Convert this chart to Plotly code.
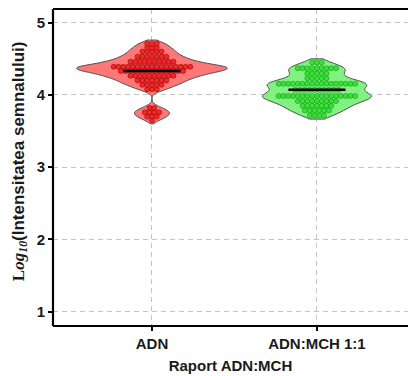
import numpy as np
import plotly.graph_objects as go

# ---- data ----
categories = ["ADN", "ADN:MCH 1:1"]
adn_levels = [4.71, 4.655, 4.60, 4.53, 4.46, 4.39, 4.33, 4.265, 4.20, 4.14, 4.08, 3.82, 3.76, 3.70, 3.65]
adn_counts = [3, 3, 5, 7, 10, 17, 14, 10, 7, 5, 3, 2, 4, 3, 1]
mch_levels = [4.45, 4.37, 4.30, 4.23, 4.155, 4.07, 3.985, 3.915, 3.85, 3.785, 3.715]
mch_counts = [3, 9, 5, 5, 17, 10, 17, 9, 7, 6, 4]
y_ticks = [1, 2, 3, 4, 5]

adn_vals = np.repeat(adn_levels, adn_counts)
mch_vals = np.repeat(mch_levels, mch_counts)

series = [
    dict(vals=adn_vals, pos=0, width=0.915, bw=0.042,
         fill="rgba(255,112,112,0.95)", dot="#ee2a2a", dotline="#a00000"),
    dict(vals=mch_vals, pos=1, width=0.66, bw=0.06,
         fill="rgba(122,240,122,0.95)", dot="#3ce03c", dotline="#129a12"),
]

fig = go.Figure()
dot_step = 0.029
for s in series:
    v = s["vals"]
    fig.add_trace(go.Violin(
        y=v, x0=s["pos"], width=s["width"], bandwidth=s["bw"],
        scalemode="width", points=False, spanmode="manual",
        span=[float(v.min()) - 0.05, float(v.max()) + 0.05],
        fillcolor=s["fill"], line=dict(color="#505050", width=1),
        box=dict(visible=False), meanline=dict(visible=False),
        showlegend=False, hoverinfo="skip"))
    xs, ys = [], []
    for lvl in np.unique(v):
        n = int((v == lvl).sum())
        offs = (np.arange(n) - (n - 1) / 2) * dot_step
        xs.extend(s["pos"] + offs)
        ys.extend([lvl] * n)
    fig.add_trace(go.Scatter(
        x=xs, y=ys, mode="markers",
        marker=dict(size=5, color=s["dot"], line=dict(color=s["dotline"], width=0.6)),
        showlegend=False, hoverinfo="skip"))
    med = float(np.median(v))
    fig.add_trace(go.Scatter(
        x=[s["pos"] - 0.173, s["pos"] + 0.173], y=[med, med], mode="lines",
        line=dict(color="black", width=2.5), showlegend=False, hoverinfo="skip"))

# frame: left, top, bottom (no right side visible in the reference)
frame = dict(type="line", xref="paper", yref="paper", line=dict(color="black", width=2.2))
fig.add_shape(**frame, x0=0, x1=0, y0=0, y1=1)
fig.add_shape(**frame, x0=0, x1=1.01, y0=1, y1=1)
fig.add_shape(**frame, x0=0, x1=1.01, y0=0, y1=0)

# y-axis title as a rotated annotation
fig.add_annotation(
    text='<b><span style="font-family:Liberation Serif">L<i>og</i><sub><i>10</i></sub></span>(Intensitatea semnalului)</b>',
    xref="paper", yref="paper", x=-0.093, y=0.52, xanchor="center", yanchor="middle",
    textangle=-90, showarrow=False, font=dict(size=17, color="#1a1a1a"))

fig.update_layout(
    width=408, height=376,
    margin=dict(l=53, r=0, t=9, b=50),
    paper_bgcolor="white", plot_bgcolor="white",
    violinmode="overlay",
    font=dict(family="Liberation Sans", color="#1a1a1a"),
    xaxis=dict(
        range=[-0.6, 1.552], tickvals=[0, 1], ticktext=[f"<b>{c}</b>" for c in categories],
        tickfont=dict(size=15), showgrid=True, gridcolor="#c4c4c4", gridwidth=1,
        griddash="5px,4px", zeroline=False, showline=False,
        ticks="outside", ticklen=4, tickcolor="black", tickwidth=1.5,
        title=dict(text="<b>Raport ADN:MCH</b>", font=dict(size=15), standoff=9),
        automargin=False),
    yaxis=dict(
        range=[0.80, 5.19], tickvals=y_ticks, ticktext=[f"<b>{t}</b>" for t in y_ticks],
        tickfont=dict(size=15), showgrid=True, gridcolor="#c4c4c4", gridwidth=1,
        griddash="5px,4px", zeroline=False, showline=False,
        ticks="outside", ticklen=4, tickcolor="black", tickwidth=1.5,
        automargin=False),
)

fig.write_html("out.html")
